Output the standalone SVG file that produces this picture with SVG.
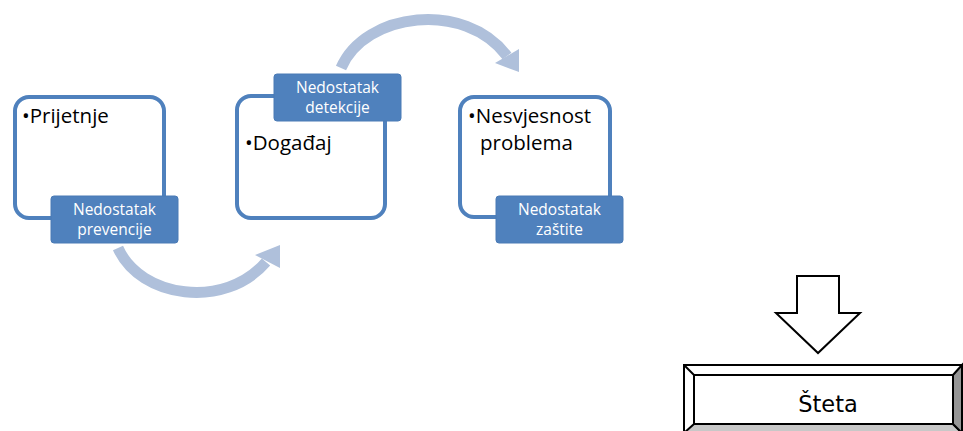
<svg xmlns="http://www.w3.org/2000/svg" width="963" height="431" viewBox="0 0 963 431">
<style>
.box{fill:#fff;stroke:#4F81BD;stroke-width:4}
.lbl{fill:#4F81BD;stroke:#4A7AB5;stroke-width:1}
.lt{font-family:"Open Sans","Liberation Sans",sans-serif;font-size:15.5px;fill:#fff;text-anchor:middle}
.mt{font-family:"Open Sans","Liberation Sans",sans-serif;font-size:20.5px;fill:#000}
.band{fill:none;stroke:#AFC0DB;stroke-width:11}
.head{fill:#AFC0DB}
.blk{stroke:#000;stroke-width:2}
</style>
<g id="connectors">
<path class="band" d="M118,248 C140,298 225,310 266,262"/>
<polygon class="head" points="255,255 280,245 280,268"/>
<path class="band" d="M341,68 C365,12 465,0 507,56"/>
<polygon class="head" points="495,63 519,49 519,72"/>
<polygon points="797,276 839,276 839,313 860,313 818,353 776,313 797,313" fill="#fff" class="blk"/>
</g>
<g id="node1">
<rect class="box" x="15" y="97" width="149" height="121" rx="14"/>
<text class="mt" x="22" y="123">•Prijetnje</text>
<rect class="lbl" x="51" y="196" width="127" height="47" rx="3"/>
<text class="lt" x="114.5" y="215">Nedostatak</text>
<text class="lt" x="114.5" y="235">prevencije</text>
</g>
<g id="node2">
<rect class="box" x="237" y="96" width="148" height="122" rx="14"/>
<text class="mt" x="245" y="150">•Događaj</text>
<rect class="lbl" x="274" y="74" width="127" height="47" rx="3"/>
<text class="lt" x="337.5" y="93">Nedostatak</text>
<text class="lt" x="337.5" y="113">detekcije</text>
</g>
<g id="node3">
<rect class="box" x="460" y="97" width="150" height="120" rx="14"/>
<text class="mt" x="468" y="123">•Nesvjesnost</text>
<text class="mt" x="480" y="150">problema</text>
<rect class="lbl" x="496" y="196" width="127" height="47" rx="3"/>
<text class="lt" x="559.5" y="215">Nedostatak</text>
<text class="lt" x="559.5" y="235">zaštite</text>
</g>
<g id="steta">
<rect x="684" y="365" width="278" height="68" fill="#fff" class="blk"/>
<polygon points="684,433 694,424 953,424 962,433" fill="#C8C8C8" class="blk"/>
<polygon points="962,365 953,375 953,424 962,433" fill="#969696" class="blk"/>
<line x1="684" y1="365" x2="694" y2="375" class="blk"/>
<rect x="694" y="375" width="259" height="49" fill="#fff" class="blk"/>
<text x="828" y="412" font-family="'DejaVu Sans',Verdana,sans-serif" font-size="22.5" text-anchor="middle">Šteta</text>
</g>
</svg>
